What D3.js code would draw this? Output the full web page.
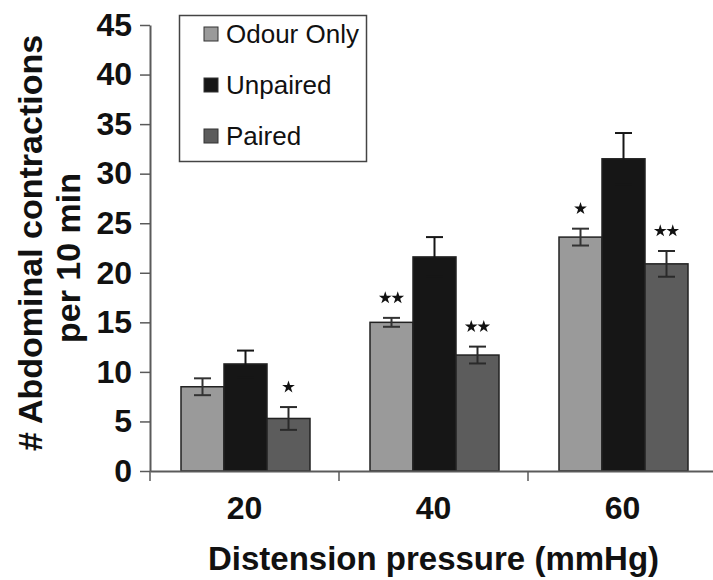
<!DOCTYPE html>
<html>
<head>
<meta charset="utf-8">
<script src="https://cdn.jsdelivr.net/npm/d3@7"></script>
<style>
  html, body { margin: 0; padding: 0; background: #fff; }
  svg { display: block; }
  text { font-family: "Liberation Sans", Arial, Helvetica, sans-serif; }
</style>
</head>
<body>
<svg id="chart" width="713" height="580"></svg>
<script>
// ---- data ----
const groups = ["20", "40", "60"];
const seriesNames = ["Odour Only", "Unpaired", "Paired"];
const odourOnly = [8.5, 15.0, 23.6];
const odourOnlyErr = [0.85, 0.45, 0.85];
const unpaired = [10.8, 21.6, 31.5];
const unpairedErr = [1.35, 2.0, 2.6];
const paired = [5.3, 11.7, 20.9];
const pairedErr = [1.15, 0.85, 1.3];
const odourOnlySig = ["", "**", "*"];
const unpairedSig = ["", "", ""];
const pairedSig = ["*", "**", "**"];
const yTicks = [0, 5, 10, 15, 20, 25, 30, 35, 40, 45];
const xTitle = "Distension pressure (mmHg)";
const yTitle = ["# Abdominal contractions", "per 10 min"];

const seriesColors = ["#9a9a9a", "#161616", "#5c5c5c"];
const errColors = ["#333", "#161616", "#2a2a2a"];
const seriesValues = [odourOnly, unpaired, paired];
const seriesErrs = [odourOnlyErr, unpairedErr, pairedErr];
const seriesSig = [odourOnlySig, unpairedSig, pairedSig];

// ---- layout ----
const svg = d3.select("#chart");
const plotLeft = 150, plotRight = 717, plotTop = 25, plotBottom = 471;
const axisColor = "#5a5a5a";

const x0 = d3.scaleBand().domain(groups).range([plotLeft, plotRight]).paddingInner(0).paddingOuter(0);
const x1 = d3.scaleBand().domain(seriesNames).range([31, 160]).padding(0);
const y = d3.scaleLinear().domain([0, 45]).range([plotBottom, plotTop]);

// table for marks
const rows = [];
groups.forEach((g, gi) => {
  seriesNames.forEach((s, si) => {
    rows.push({ g, s, si, v: seriesValues[si][gi], e: seriesErrs[si][gi], sig: seriesSig[si][gi] });
  });
});

// bars
svg.append("g").selectAll("rect").data(rows).join("rect")
  .attr("x", d => x0(d.g) + x1(d.s))
  .attr("y", d => y(d.v))
  .attr("width", x1.bandwidth())
  .attr("height", d => y(0) - y(d.v))
  .attr("fill", d => seriesColors[d.si])
  .attr("stroke", "#222")
  .attr("stroke-width", 1.5);

// error bars
const capW = 17;
const eg = svg.append("g").attr("stroke-width", 2).attr("fill", "none");
rows.forEach(d => {
  const cx = x0(d.g) + x1(d.s) + x1.bandwidth() / 2;
  const yt = y(d.v + d.e), yb = y(d.v - d.e);
  const c = errColors[d.si];
  eg.append("line").attr("stroke", c).attr("x1", cx).attr("x2", cx).attr("y1", yt).attr("y2", yb);
  eg.append("line").attr("stroke", c).attr("x1", cx - capW / 2).attr("x2", cx + capW / 2).attr("y1", yt).attr("y2", yt);
  eg.append("line").attr("stroke", c).attr("x1", cx - capW / 2).attr("x2", cx + capW / 2).attr("y1", yb).attr("y2", yb);
});

// significance stars
const star = d3.symbol().type(d3.symbolStar).size(50);
const sg = svg.append("g").attr("fill", "#111");
rows.forEach(d => {
  const n = d.sig.length;
  if (!n) return;
  const cx = x0(d.g) + x1(d.s) + x1.bandwidth() / 2;
  const cy = y(d.v + d.e) - 20;
  for (let i = 0; i < n; i++) {
    sg.append("path").attr("d", star())
      .attr("transform", `translate(${cx + (i - (n - 1) / 2) * 12.5},${cy})`);
  }
});

// y axis
const yAxis = d3.axisLeft(y).tickValues(yTicks).tickSize(10).tickSizeOuter(0).tickPadding(8);
const gy = svg.append("g").attr("transform", `translate(${plotLeft},0)`).call(yAxis);
gy.select(".domain").attr("stroke", axisColor).attr("stroke-width", 2);
gy.selectAll(".tick line").attr("stroke", axisColor).attr("stroke-width", 1.5);
gy.selectAll(".tick text").attr("font-size", 32).attr("font-weight", "bold").attr("fill", "#111")
  .attr("font-family", "'Liberation Sans', Arial, sans-serif");

// x axis
const xAxis = d3.axisBottom(x0).tickSize(0).tickSizeOuter(0).tickPadding(25);
const gx = svg.append("g").attr("transform", `translate(0,${plotBottom})`).call(xAxis);
gx.select(".domain").attr("stroke", axisColor).attr("stroke-width", 2);
gx.selectAll(".tick text").attr("font-size", 32).attr("font-weight", "bold").attr("fill", "#111")
  .attr("font-family", "'Liberation Sans', Arial, sans-serif");
// category boundary ticks
const bounds = groups.map(g => x0(g)).concat([x0.range()[1]]);
gx.selectAll(".bound").data(bounds).join("line").attr("class", "bound")
  .attr("x1", d => d).attr("x2", d => d).attr("y1", 0).attr("y2", 10)
  .attr("stroke", axisColor).attr("stroke-width", 1.5);

// x title
svg.append("text")
  .attr("x", (plotLeft + plotRight) / 2).attr("y", 570)
  .attr("text-anchor", "middle").attr("font-size", 33).attr("font-weight", "bold").attr("fill", "#111")
  .text(xTitle);

// y title
const yt = svg.append("text")
  .attr("transform", `translate(0,0) rotate(-90)`)
  .attr("text-anchor", "middle").attr("font-size", 34).attr("font-weight", "bold").attr("fill", "#111");
yt.append("tspan").attr("x", -243).attr("y", 42).text(yTitle[0]);
yt.append("tspan").attr("x", -258).attr("y", 80).text(yTitle[1]);

// legend
const lg = svg.append("g");
lg.append("rect").attr("x", 179.5).attr("y", 15.5).attr("width", 187).attr("height", 146)
  .attr("fill", "#fff").attr("stroke", "#444").attr("stroke-width", 1.5);
seriesNames.forEach((s, i) => {
  const cy = 34 + i * 51;
  lg.append("rect").attr("x", 204).attr("y", cy - 7).attr("width", 14).attr("height", 14)
    .attr("fill", seriesColors[i]).attr("stroke", "#333").attr("stroke-width", 1);
  lg.append("text").attr("x", 226).attr("y", cy + 8.5).attr("font-size", 26).attr("fill", "#111").text(s);
});
</script>
</body>
</html>
